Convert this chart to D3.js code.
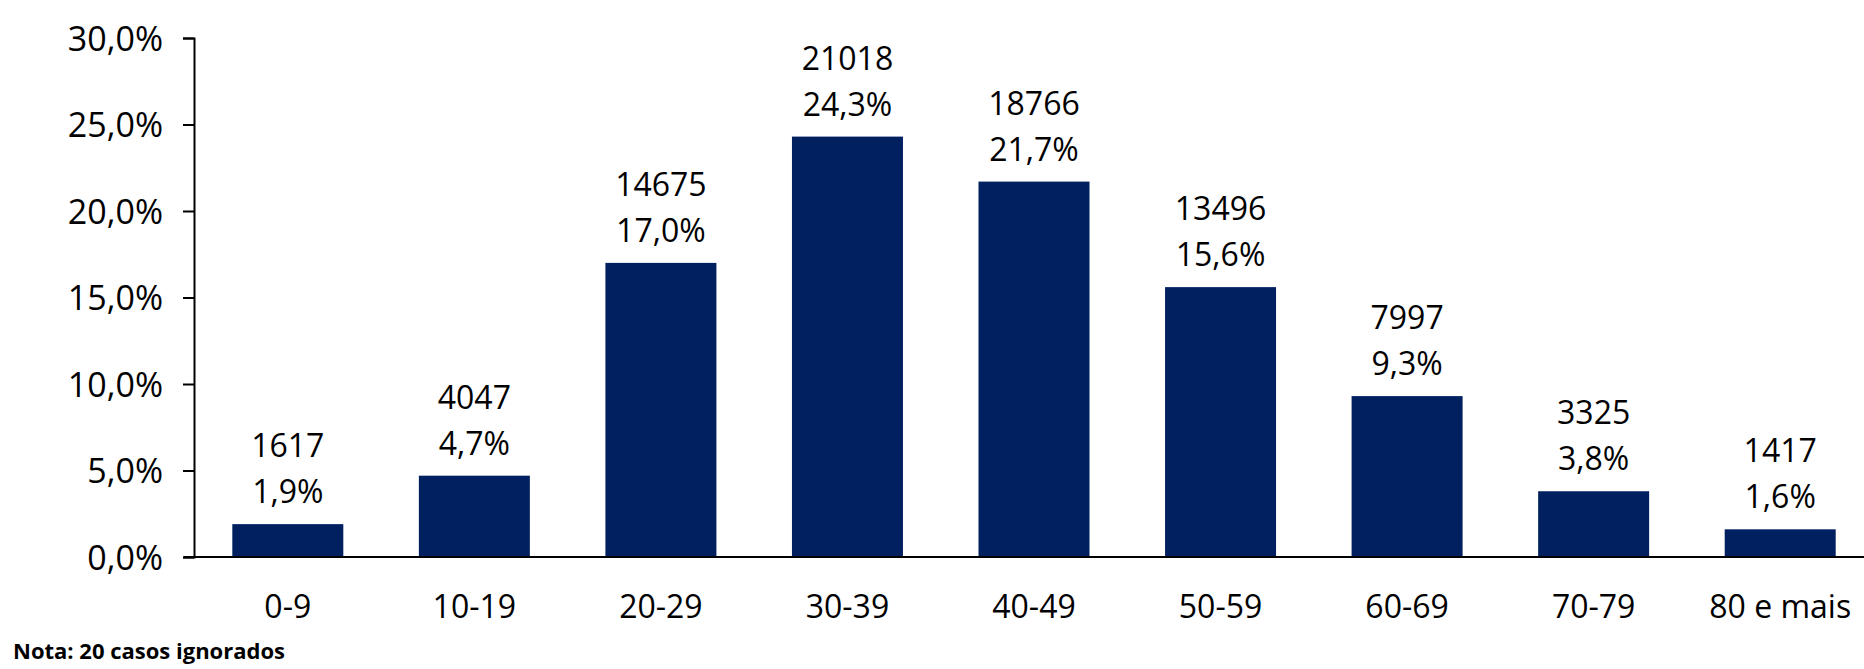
<!DOCTYPE html>
<html>
<head>
<meta charset="utf-8">
<script src="https://cdn.jsdelivr.net/npm/d3@7"></script>
<style>
  body { margin: 0; background: #fff; }
  svg text { font-family: "Open Sans", Lato, sans-serif; fill: #000; }
</style>
</head>
<body>
<div id="chart"></div>
<script>
const categories = ['0-9', '10-19', '20-29', '30-39', '40-49', '50-59', '60-69', '70-79', '80 e mais'];
const counts = [1617, 4047, 14675, 21018, 18766, 13496, 7997, 3325, 1417];
const percents = [1.9, 4.7, 17.0, 24.3, 21.7, 15.6, 9.3, 3.8, 1.6];
const yTicks = [0, 5, 10, 15, 20, 25, 30];
const note = 'Nota: 20 casos ignorados';

const width = 1864;
const height = 669;

const svg = d3.select('#chart')
  .append('svg')
  .attr('width', width)
  .attr('height', height);

// Scales
const x = d3.scaleBand()
  .domain(categories)
  .range([195, 1873])
  .paddingInner(0.405)
  .paddingOuter(0.2);

const y = d3.scaleLinear()
  .domain([0, 30])
  .range([557, 38]);

const fmt = v => d3.format('.1f')(v).replace('.', ',') + '%';

// Bars
svg.append('g')
  .selectAll('rect')
  .data(categories)
  .enter()
  .append('rect')
  .attr('x', d => x(d))
  .attr('y', (d, i) => y(percents[i]))
  .attr('width', x.bandwidth())
  .attr('height', (d, i) => y(0) - y(percents[i]))
  .attr('fill', '#002060');

// Y axis
const yAxis = svg.append('g')
  .attr('transform', 'translate(194,0)')
  .call(d3.axisLeft(y).tickValues(yTicks).tickFormat(fmt).tickSize(11).tickPadding(20));
yAxis.select('.domain').attr('stroke', '#000').attr('stroke-width', 2);
yAxis.selectAll('.tick line').attr('stroke', '#000').attr('stroke-width', 2);
yAxis.selectAll('.tick text').attr('font-size', 34).attr('dy', '0.36em');

// X axis line
svg.append('line')
  .attr('x1', 184).attr('x2', width)
  .attr('y1', y(0)).attr('y2', y(0))
  .attr('stroke', '#000')
  .attr('stroke-width', 2);

// Category labels
svg.append('g')
  .selectAll('text')
  .data(categories)
  .enter()
  .append('text')
  .attr('x', d => x(d) + x.bandwidth() / 2)
  .attr('y', 618)
  .attr('text-anchor', 'middle')
  .attr('font-size', 32)
  .text(d => d);

// Data labels: count over percent
const labels = svg.append('g')
  .selectAll('g')
  .data(categories)
  .enter()
  .append('g');

labels.append('text')
  .attr('x', d => x(d) + x.bandwidth() / 2)
  .attr('y', (d, i) => y(percents[i]) - 67)
  .attr('text-anchor', 'middle')
  .attr('font-size', 32)
  .text((d, i) => counts[i]);

labels.append('text')
  .attr('x', d => x(d) + x.bandwidth() / 2)
  .attr('y', (d, i) => y(percents[i]) - 21)
  .attr('text-anchor', 'middle')
  .attr('font-size', 32)
  .text((d, i) => fmt(percents[i]));

// Note
svg.append('text')
  .attr('x', 13)
  .attr('y', 659)
  .attr('font-size', 22)
  .attr('font-weight', 'bold')
  .text(note);
</script>
</body>
</html>
